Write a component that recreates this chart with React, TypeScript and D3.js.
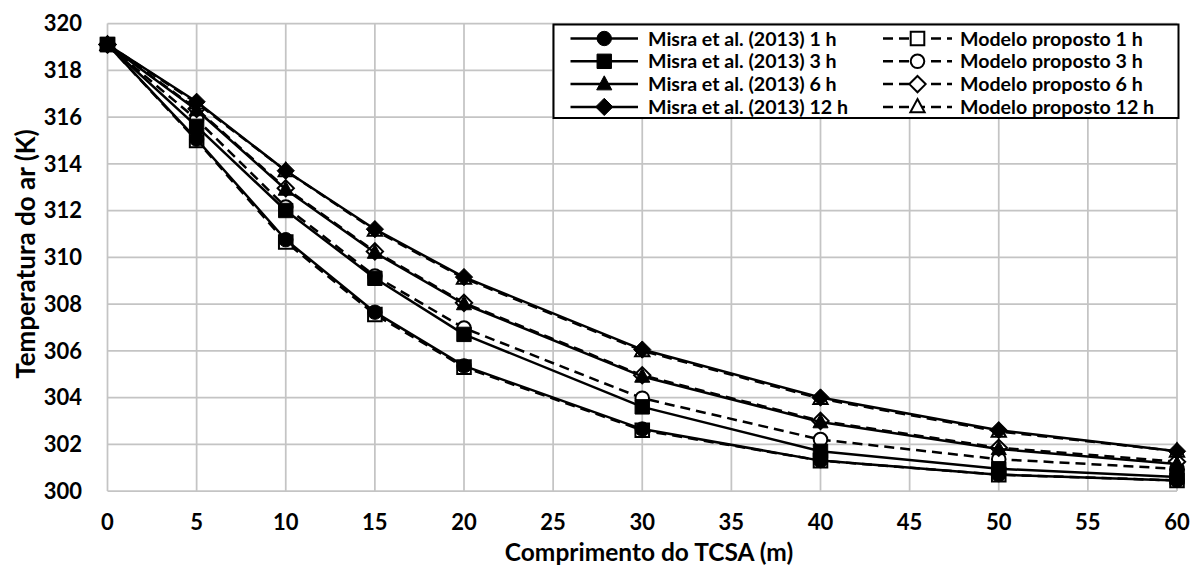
import React, { useEffect, useRef } from 'react';
import * as d3 from 'd3';

// Comprimento do TCSA (m)
const lengths = [0, 5, 10, 15, 20, 30, 40, 50, 60];

// Temperatura do ar (K) — Misra et al. (2013)
const misra1h = [319.1, 315.05, 310.75, 307.65, 305.35, 302.65, 301.3, 300.7, 300.45];
const misra3h = [319.1, 315.6, 312.0, 309.1, 306.7, 303.6, 301.7, 300.95, 300.6];
const misra6h = [319.1, 316.3, 312.9, 310.2, 308.0, 304.9, 302.95, 301.8, 301.15];
const misra12h = [319.1, 316.65, 313.7, 311.2, 309.15, 306.05, 304.0, 302.6, 301.7];

// Temperatura do ar (K) — Modelo proposto
const modelo1h = [319.1, 315.0, 310.65, 307.55, 305.3, 302.6, 301.3, 300.7, 300.45];
const modelo3h = [319.1, 315.9, 312.15, 309.2, 306.97, 303.97, 302.2, 301.36, 300.95];
const modelo6h = [319.1, 316.35, 312.95, 310.25, 308.05, 304.95, 303.0, 301.85, 301.25];
const modelo12h = [319.1, 316.6, 313.7, 311.15, 309.1, 306.0, 303.95, 302.55, 301.7];

const xTicks = [0, 5, 10, 15, 20, 25, 30, 35, 40, 45, 50, 55, 60];
const yTicks = [300, 302, 304, 306, 308, 310, 312, 314, 316, 318, 320];

type Shape = 'circle' | 'square' | 'triangle' | 'diamond';
interface Series {
  label: string;
  values: number[];
  shape: Shape;
  filled: boolean;
  dashed: boolean;
}

const modeloSeries: Series[] = [
  { label: 'Modelo proposto 1 h', values: modelo1h, shape: 'square', filled: false, dashed: true },
  { label: 'Modelo proposto 3 h', values: modelo3h, shape: 'circle', filled: false, dashed: true },
  { label: 'Modelo proposto 6 h', values: modelo6h, shape: 'diamond', filled: false, dashed: true },
  { label: 'Modelo proposto 12 h', values: modelo12h, shape: 'triangle', filled: false, dashed: true },
];
const misraSeries: Series[] = [
  { label: 'Misra et al. (2013) 1 h', values: misra1h, shape: 'circle', filled: true, dashed: false },
  { label: 'Misra et al. (2013) 3 h', values: misra3h, shape: 'square', filled: true, dashed: false },
  { label: 'Misra et al. (2013) 6 h', values: misra6h, shape: 'triangle', filled: true, dashed: false },
  { label: 'Misra et al. (2013) 12 h', values: misra12h, shape: 'diamond', filled: true, dashed: false },
];

const W = 1194;
const H = 567;
const plot = { left: 107.5, right: 1177, top: 23.5, bottom: 491 };
const FONT = 'Lato, "Open Sans", sans-serif';
const DASH = '10,6';

function markerPath(shape: Shape, filled: boolean): string {
  const s = filled ? 7.2 : 6.8;
  switch (shape) {
    case 'circle':
      return d3.symbol(d3.symbolCircle, Math.PI * s * s)() as string;
    case 'square':
      return `M${-s},${-s}H${s}V${s}H${-s}Z`;
    case 'triangle':
      return `M0,${-s * 1.15}L${s * 1.05},${s * 0.8}L${-s * 1.05},${s * 0.8}Z`;
    case 'diamond': {
      const d = s * 1.2;
      return `M0,${-d}L${d},0L0,${d}L${-d},0Z`;
    }
  }
}

export default function App() {
  const ref = useRef<SVGSVGElement>(null);

  useEffect(() => {
    document.body.style.margin = '0';
    const svg = d3.select(ref.current);
    svg.selectAll('*').remove();

    const x = d3.scaleLinear().domain([0, 60]).range([plot.left, plot.right]);
    const y = d3.scaleLinear().domain([300, 320]).range([plot.bottom, plot.top]);

    svg.append('rect').attr('width', W).attr('height', H).attr('fill', '#fff');

    // grid
    const grid = svg.append('g').attr('stroke', '#c4c4c4').attr('stroke-width', 1.75);
    grid.selectAll('line.v').data(xTicks).join('line')
      .attr('class', 'v')
      .attr('x1', (d) => x(d)).attr('x2', (d) => x(d))
      .attr('y1', plot.top).attr('y2', plot.bottom);
    grid.selectAll('line.h').data(yTicks).join('line')
      .attr('class', 'h')
      .attr('x1', plot.left).attr('x2', plot.right)
      .attr('y1', (d) => y(d)).attr('y2', (d) => y(d));

    // tick labels
    svg.append('g').selectAll('text').data(yTicks).join('text')
      .attr('x', 82).attr('y', (d) => y(d)).attr('dy', '0.36em')
      .attr('text-anchor', 'end')
      .attr('font-family', FONT).attr('font-weight', 700).attr('font-size', 22)
      .text((d) => String(d));
    svg.append('g').selectAll('text').data(xTicks).join('text')
      .attr('x', (d) => x(d)).attr('y', 522.5).attr('dy', '0.36em')
      .attr('text-anchor', 'middle')
      .attr('font-family', FONT).attr('font-weight', 700).attr('font-size', 22)
      .text((d) => String(d));

    // axis titles
    svg.append('text')
      .attr('x', 649).attr('y', 561)
      .attr('text-anchor', 'middle')
      .attr('font-family', FONT).attr('font-weight', 700).attr('font-size', 24.5)
      .text('Comprimento do TCSA (m)');
    svg.append('text')
      .attr('transform', 'translate(35,254) rotate(-90)')
      .attr('text-anchor', 'middle')
      .attr('font-family', FONT).attr('font-weight', 700).attr('font-size', 26)
      .text('Temperatura do ar (K)');

    const line = d3.line<number>()
      .x((_, i) => x(lengths[i]))
      .y((v) => y(v));

    const drawSeries = (s: Series) => {
      const g = svg.append('g');
      g.append('path')
        .attr('d', line(s.values))
        .attr('fill', 'none')
        .attr('stroke', '#000')
        .attr('stroke-width', 2.5)
        .attr('stroke-dasharray', s.dashed ? DASH : null)
        .attr('stroke-linejoin', 'round');
      g.selectAll('path.m').data(s.values).join('path')
        .attr('class', 'm')
        .attr('transform', (v, i) => `translate(${x(lengths[i])},${y(v)})`)
        .attr('d', markerPath(s.shape, s.filled))
        .attr('fill', s.filled ? '#000' : '#fff')
        .attr('stroke', '#000')
        .attr('stroke-width', s.filled ? 1 : 2);
    };

    modeloSeries.forEach(drawSeries);
    misraSeries.forEach(drawSeries);

    // legend
    const lg = svg.append('g');
    lg.append('rect')
      .attr('x', 553.5).attr('y', 24.5).attr('width', 625).attr('height', 93.5)
      .attr('fill', '#fff').attr('stroke', '#000').attr('stroke-width', 2);
    const rowY = (i: number) => 38.5 + i * 22.8;

    const legendItem = (s: Series, i: number, x0: number, x1: number, tx: number) => {
      const cy = rowY(i);
      const cx = (x0 + x1) / 2;
      lg.append('line')
        .attr('x1', x0).attr('x2', x1).attr('y1', cy).attr('y2', cy)
        .attr('stroke', '#000').attr('stroke-width', 2.5)
        .attr('stroke-dasharray', s.dashed ? DASH : null);
      lg.append('path')
        .attr('transform', `translate(${cx},${cy})`)
        .attr('d', markerPath(s.shape, s.filled))
        .attr('fill', s.filled ? '#000' : '#fff')
        .attr('stroke', '#000')
        .attr('stroke-width', s.filled ? 1 : 2);
      lg.append('text')
        .attr('x', tx).attr('y', cy).attr('dy', '0.36em')
        .attr('font-family', FONT).attr('font-weight', 700).attr('font-size', 19.6)
        .text(s.label);
    };
    misraSeries.forEach((s, i) => legendItem(s, i, 570.5, 638, 648));
    modeloSeries.forEach((s, i) => legendItem(s, i, 883, 952, 960));
  }, []);

  return <svg ref={ref} width={W} height={H} style={{ display: 'block' }} />;
}
